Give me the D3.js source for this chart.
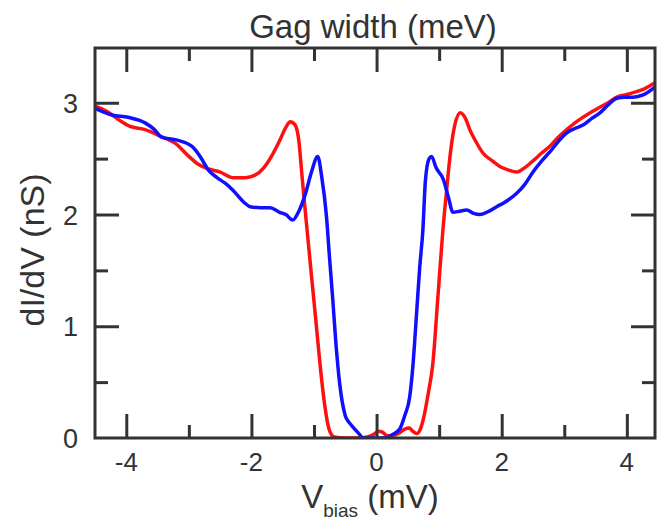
<!DOCTYPE html>
<html>
<head>
<meta charset="utf-8">
<script src="https://cdn.jsdelivr.net/npm/d3@7"></script>
<style>
  html, body { margin: 0; padding: 0; background: #fff; }
  svg { display: block; }
  text { font-family: "Liberation Sans", Arial, Helvetica, sans-serif; fill: #333; }
</style>
</head>
<body>
<svg id="chart" width="657" height="521"></svg>
<script>
// Bias voltage (mV) and differential conductance (nS) for the two spectra
const redBias = [-4.5, -4.3, -4.1, -3.95, -3.7, -3.45, -3.2, -3.0, -2.85, -2.7, -2.5, -2.3, -2.1, -1.95, -1.8, -1.68, -1.55, -1.45, -1.38, -1.3, -1.24, -1.2, -1.16, -1.1, -1.04, -0.97, -0.9, -0.83, -0.76, -0.68, -0.5, -0.3, -0.15, -0.05, 0.03, 0.1, 0.17, 0.25, 0.35, 0.45, 0.52, 0.58, 0.64, 0.7, 0.76, 0.82, 0.9, 0.98, 1.06, 1.12, 1.18, 1.25, 1.34, 1.42, 1.49, 1.6, 1.7, 1.85, 1.97, 2.1, 2.24, 2.37, 2.5, 2.64, 2.77, 2.9, 3.04, 3.17, 3.3, 3.44, 3.57, 3.7, 3.84, 3.97, 4.1, 4.26, 4.45];
const redCond = [2.97, 2.92, 2.84, 2.79, 2.76, 2.70, 2.63, 2.52, 2.45, 2.41, 2.38, 2.33, 2.33, 2.35, 2.42, 2.52, 2.66, 2.78, 2.83, 2.80, 2.65, 2.40, 2.15, 1.80, 1.45, 1.05, 0.64, 0.30, 0.08, 0.01, 0.0, 0.0, 0.01, 0.03, 0.06, 0.05, 0.02, 0.02, 0.04, 0.08, 0.09, 0.06, 0.04, 0.08, 0.20, 0.38, 0.67, 1.26, 1.86, 2.22, 2.55, 2.80, 2.91, 2.86, 2.76, 2.64, 2.55, 2.48, 2.43, 2.40, 2.38, 2.42, 2.48, 2.55, 2.61, 2.69, 2.76, 2.82, 2.87, 2.92, 2.96, 3.00, 3.05, 3.07, 3.09, 3.12, 3.18];

const blueBias = [-4.5, -4.23, -3.97, -3.7, -3.55, -3.43, -3.22, -2.95, -2.82, -2.69, -2.55, -2.42, -2.3, -2.1, -2.02, -1.85, -1.7, -1.55, -1.45, -1.34, -1.25, -1.14, -1.04, -0.94, -0.88, -0.8, -0.75, -0.7, -0.65, -0.59, -0.5, -0.44, -0.38, -0.3, -0.21, 0.0, 0.16, 0.25, 0.37, 0.45, 0.53, 0.58, 0.64, 0.69, 0.74, 0.78, 0.84, 0.88, 0.95, 1.07, 1.15, 1.22, 1.33, 1.44, 1.55, 1.65, 1.8, 1.92, 2.05, 2.24, 2.37, 2.5, 2.64, 2.77, 2.9, 3.04, 3.17, 3.3, 3.44, 3.57, 3.7, 3.84, 3.97, 4.1, 4.26, 4.45];
const blueCond = [2.95, 2.89, 2.87, 2.82, 2.76, 2.69, 2.67, 2.61, 2.52, 2.40, 2.33, 2.28, 2.22, 2.10, 2.07, 2.06, 2.06, 2.02, 2.00, 1.95, 2.02, 2.18, 2.38, 2.52, 2.35, 1.98, 1.60, 1.24, 0.85, 0.49, 0.20, 0.14, 0.10, 0.05, 0.0, 0.0, 0.0, 0.03, 0.08, 0.20, 0.37, 0.64, 1.12, 1.53, 1.86, 2.30, 2.50, 2.52, 2.42, 2.31, 2.15, 2.02, 2.03, 2.04, 2.01, 2.00, 2.03, 2.07, 2.11, 2.19, 2.27, 2.38, 2.48, 2.56, 2.65, 2.73, 2.77, 2.80, 2.86, 2.91, 2.98, 3.04, 3.05, 3.05, 3.07, 3.14];

// Axis ticks
const xMajor = [-4, -2, 0, 2, 4];
const xMinor = [-3, -1, 1, 3];
const yMajor = [0, 1, 2, 3];
const yMinor = [0.5, 1.5, 2.5];

const titleText = "Gag width (meV)";
const yLabelText = "dI/dV (nS)";

const svg = d3.select("#chart");
const frame = { left: 95, right: 655, top: 48, bottom: 438 };

const x = d3.scaleLinear().domain([-4.5, 4.45]).range([frame.left, frame.right]);
const y = d3.scaleLinear().domain([0, 3.49]).range([frame.bottom, frame.top]);

const axisColor = "#333";

// Curves (clipped to the frame)
svg.append("clipPath").attr("id", "plotClip")
  .append("rect").attr("x", frame.left).attr("y", frame.top)
  .attr("width", frame.right - frame.left).attr("height", frame.bottom - frame.top);

const line = d3.line().x(d => x(d[0])).y(d => y(d[1])).curve(d3.curveMonotoneX);
const plot = svg.append("g").attr("clip-path", "url(#plotClip)");
plot.append("path")
  .datum(d3.zip(redBias, redCond))
  .attr("d", line).attr("fill", "none").attr("stroke", "#ff1010")
  .attr("stroke-width", 3.5).attr("stroke-linejoin", "round");
plot.append("path")
  .datum(d3.zip(blueBias, blueCond))
  .attr("d", line).attr("fill", "none").attr("stroke", "#1010ff")
  .attr("stroke-width", 3.5).attr("stroke-linejoin", "round");

// Frame axes with inward ticks
function styleAxis(g) {
  g.select(".domain").remove();
  g.selectAll(".tick line").attr("stroke", axisColor).attr("stroke-width", 3);
  g.selectAll(".tick text").remove();
}

const majorLen = 24, minorLen = 13;

svg.append("g").attr("transform", `translate(0,${frame.bottom})`)
  .call(d3.axisBottom(x).tickValues(xMajor).tickSize(-majorLen)).call(styleAxis);
svg.append("g").attr("transform", `translate(0,${frame.bottom})`)
  .call(d3.axisBottom(x).tickValues(xMinor).tickSize(-minorLen)).call(styleAxis);
svg.append("g").attr("transform", `translate(0,${frame.top})`)
  .call(d3.axisTop(x).tickValues(xMajor).tickSize(-majorLen)).call(styleAxis);
svg.append("g").attr("transform", `translate(0,${frame.top})`)
  .call(d3.axisTop(x).tickValues(xMinor).tickSize(-minorLen)).call(styleAxis);

svg.append("g").attr("transform", `translate(${frame.left},0)`)
  .call(d3.axisLeft(y).tickValues(yMajor.filter(v => v > 0)).tickSize(-majorLen)).call(styleAxis);
svg.append("g").attr("transform", `translate(${frame.left},0)`)
  .call(d3.axisLeft(y).tickValues(yMinor).tickSize(-minorLen)).call(styleAxis);
svg.append("g").attr("transform", `translate(${frame.right},0)`)
  .call(d3.axisRight(y).tickValues(yMajor.filter(v => v > 0)).tickSize(-majorLen)).call(styleAxis);
svg.append("g").attr("transform", `translate(${frame.right},0)`)
  .call(d3.axisRight(y).tickValues(yMinor).tickSize(-minorLen)).call(styleAxis);

svg.append("rect")
  .attr("x", frame.left).attr("y", frame.top)
  .attr("width", frame.right - frame.left).attr("height", frame.bottom - frame.top)
  .attr("fill", "none").attr("stroke", axisColor).attr("stroke-width", 3);

// Tick labels
svg.append("g").selectAll("text").data(xMajor).join("text")
  .attr("x", d => x(d)).attr("y", 471)
  .attr("text-anchor", "middle").attr("font-size", 26)
  .text(d => String(d));

svg.append("g").selectAll("text").data(yMajor).join("text")
  .attr("x", 78).attr("y", d => y(d) + 10)
  .attr("text-anchor", "end").attr("font-size", 27)
  .text(d => d);

// Title
svg.append("text").attr("x", 373).attr("y", 38)
  .attr("text-anchor", "middle").attr("font-size", 33)
  .text(titleText);

// X label with subscript
const xl = svg.append("text").attr("x", 370).attr("y", 508)
  .attr("text-anchor", "middle").attr("font-size", 33);
xl.append("tspan").text("V");
xl.append("tspan").attr("font-size", 19).attr("dy", 9).text("bias");
xl.append("tspan").attr("dy", -9).text(" (mV)");

// Y label
svg.append("text")
  .attr("transform", "translate(44,250) rotate(-90)")
  .attr("text-anchor", "middle").attr("font-size", 34)
  .text(yLabelText);
</script>
</body>
</html>
